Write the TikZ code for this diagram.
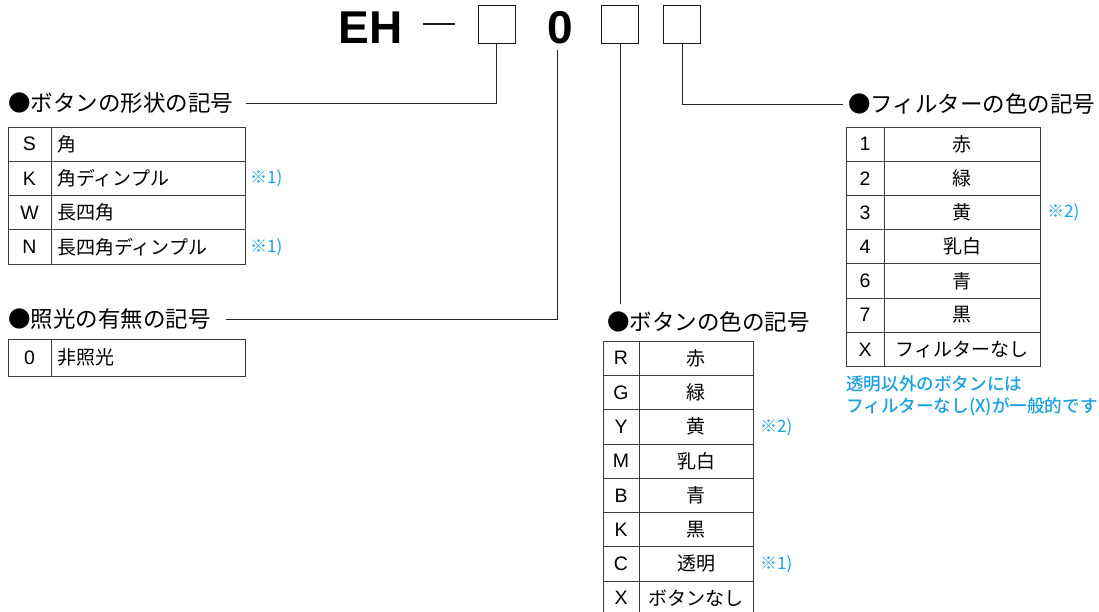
\documentclass[tikz,border=0pt]{standalone}
\usepackage{fontspec}
\setmainfont{Noto Sans CJK JP}
\newfontfamily\latinfont{Liberation Sans}
\newfontfamily\hintfont{Noto Sans CJK JP Medium}
\usepackage{xcolor}
\usetikzlibrary{positioning}
\definecolor{noteblue}{HTML}{1AA0E0}
\definecolor{rulegray}{HTML}{3C3C3C}

\begin{document}
\begin{tikzpicture}[
    x=1pt, y=-1pt,
    title/.style={font=\latinfont\bfseries\fontsize{46pt}{50pt}\selectfont, inner sep=0pt},
    slot/.style={draw=black!90, line width=1pt, minimum width=37pt, minimum height=38pt, inner sep=0pt},
    hdr/.style={anchor=west, inner sep=0pt, font=\fontsize{22.5pt}{26pt}\selectfont},
    cell/.style={draw=rulegray, line width=0.8pt, inner sep=0pt, outer sep=0pt,
        font=\fontsize{19pt}{22pt}\selectfont},
    keycell/.style={cell, font=\latinfont\fontsize{19.5pt}{22pt}\selectfont},
    lval/.style={cell, text width=182pt, inner xsep=6pt, align=left},
    cval/.style={cell, minimum width=#1},
    note/.style={inner sep=0pt, text=noteblue, font=\fontsize{17pt}{20pt}\selectfont},
    hint/.style={note, anchor=west, font=\hintfont\fontsize{17.6pt}{21pt}\selectfont},
    conn/.style={draw=black!85, line width=0.8pt},
]
\useasboundingbox (0,0) rectangle (1099,612);

% ── Model code ───────────────────────────────────────────────────────────
\node[title] (eh) at (370.5,28) {EH};
\node[fill=black!90, minimum width=32pt, minimum height=1.8pt, inner sep=0pt] (dash) at (439,24) {};
\node[slot] (slot1) at (496.5,25) {};
\node[title] (zero) at (560,28) {0};
\node[slot] (slot2) at (620,25) {};
\node[slot] (slot3) at (682,25) {};

% ── Button shape ─────────────────────────────────────────────────────────
\node[hdr] (shapehdr) at (8,103) {●ボタンの形状の記号};
\foreach \k/\v [count=\i] in {S/角, K/角ディンプル, W/長四角, N/長四角ディンプル} {
    \node[keycell, minimum width=43pt, minimum height=34.25pt] (shk\i)
        at (29.5,{127+34.25*(\i-0.5)}) {\k};
    \node[lval, minimum height=34.25pt, right=0pt of shk\i] (shv\i) {\v};
}
\node[note, anchor=west, right=5pt of shv2] (shnote2) {※1)};
\node[note, anchor=west, right=5pt of shv4] (shnote4) {※1)};

% ── Lamp ─────────────────────────────────────────────────────────────────
\node[hdr] (lamphdr) at (8,319) {●照光の有無の記号};
\node[keycell, minimum width=43pt, minimum height=37pt] (lmk1) at (29.5,357.5) {0};
\node[lval, minimum height=37pt, right=0pt of lmk1] (lmv1) {非照光};

% ── Button colour ────────────────────────────────────────────────────────
\node[hdr] (colorhdr) at (607,322) {●ボタンの色の記号};
\foreach \k/\v [count=\i] in {R/赤, G/緑, Y/黄, M/乳白, B/青, K/黒, C/透明, X/ボタンなし} {
    \node[keycell, minimum width=36pt, minimum height=34.3pt] (clk\i)
        at (621,{341+34.3*(\i-0.5)}) {\k};
    \node[cval=114pt, minimum height=34.3pt, right=0pt of clk\i] (clv\i) {\v};
}
\node[note, anchor=west, right=7pt of clv3] (clnote3) {※2)};
\node[note, anchor=west, right=7pt of clv7] (clnote7) {※1)};

% ── Filter colour ────────────────────────────────────────────────────────
\node[hdr] (filterhdr) at (848,104) {●フィルターの色の記号};
\foreach \k/\v [count=\i] in {1/赤, 2/緑, 3/黄, 4/乳白, 6/青, 7/黒, X/フィルターなし} {
    \node[keycell, minimum width=38pt, minimum height=34.2pt] (flk\i)
        at (865,{127+34.2*(\i-0.5)}) {\k};
    \node[cval=156pt, minimum height=34.2pt, right=0pt of flk\i] (flv\i) {\v};
}
\node[note, anchor=west, right=7pt of flv3] (flnote3) {※2)};
\node[hint] (flhint1) at (846,384) {透明以外のボタンには};
\node[hint] (flhint2) at (846,407) {フィルターなし(X)が一般的です};

% ── Leaders ──────────────────────────────────────────────────────────────
\draw[conn] (slot1.south) |- ([xshift=13pt]shapehdr.east);
\draw[conn] ([xshift=-3pt,yshift=-6pt]zero.south) |- ([xshift=15pt]lamphdr.east);
\draw[conn] (slot2.south) -- ([yshift=7pt]slot2.south |- colorhdr.north);
\draw[conn] (slot3.south) |- ([xshift=-5pt]filterhdr.west);

\end{tikzpicture}
\end{document}
